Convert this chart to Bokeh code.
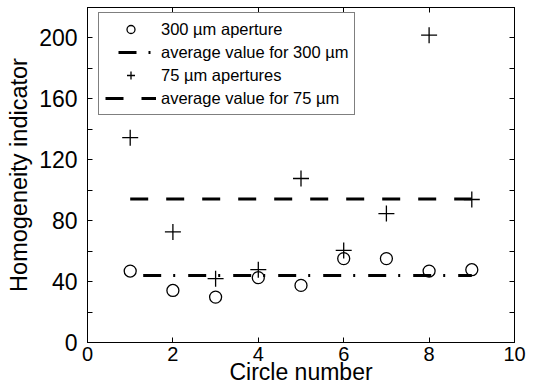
from bokeh.plotting import figure
from bokeh.models import Legend, LegendItem, LinearAxis, FixedTicker, CustomLabelingPolicy
from bokeh.embed import file_html
from bokeh.resources import INLINE

# ---- data ----
circle_no = [1, 2, 3, 4, 5, 6, 7, 8, 9]
hi_300 = [46.9, 34.2, 29.8, 42.6, 37.5, 55.1, 55.1, 46.9, 47.8]
hi_75 = [134.5, 72.6, 41.9, 47.8, 107.7, 60.5, 84.7, 201.8, 93.9]
avg_x = [1, 9]
avg_300 = [44.0, 44.0]
avg_75 = [94.3, 94.3]

x_ticks = [0, 2, 4, 6, 8, 10]
y_ticks = [0, 40, 80, 120, 160, 200]
y_minor = [20, 60, 100, 140, 180, 220]

label_names = ["300 µm aperture", "average value for 300 µm",
               "75 µm apertures", "average value for 75 µm"]

p = figure(width=534, height=389, x_range=(0, 10), y_range=(0, 220),
           output_backend="svg", toolbar_location=None,
           min_border_left=87, min_border_right=20, min_border_top=7,
           min_border_bottom=47)
p.grid.visible = False
p.outline_line_color = "black"
p.outline_line_width = 1
p.background_fill_color = "white"
p.border_fill_color = "white"

# main axes
xa = p.xaxis[0]
xa.ticker = FixedTicker(ticks=x_ticks, minor_ticks=[])
ya = p.yaxis[0]
ya.ticker = FixedTicker(ticks=y_ticks, minor_ticks=y_minor)

for ax in (xa, ya):
    ax.axis_line_color = "black"
    ax.major_tick_line_color = "black"
    ax.minor_tick_line_color = "black"
    ax.major_tick_in = 5
    ax.major_tick_out = 0
    ax.minor_tick_in = 5
    ax.minor_tick_out = 0
    ax.major_label_text_color = "black"
    ax.axis_label_text_color = "black"
    ax.axis_label_text_font_style = "normal"

xa.major_label_text_font = "Liberation Sans"
xa.major_label_text_font_size = "20px"
xa.major_label_standoff = 4
xa.axis_label = "Circle number"
xa.axis_label_text_font = "Liberation Sans"
xa.axis_label_text_font_size = "23px"
xa.axis_label_standoff = -5

ya.major_label_text_font = "Liberation Sans"
ya.major_label_text_font_size = "23px"
ya.major_label_standoff = 10
ya.axis_label = "Homogeneity indicator"
ya.axis_label_text_font = "Liberation Sans"
ya.axis_label_text_font_size = "23.5px"
ya.axis_label_standoff = 4

# box axes (top / right), ticks only, no labels drawn
no_labels = CustomLabelingPolicy(code="return new Set()")
top = LinearAxis(ticker=FixedTicker(ticks=x_ticks, minor_ticks=[]))
right = LinearAxis(ticker=FixedTicker(ticks=y_ticks, minor_ticks=y_minor))
for ax in (top, right):
    ax.axis_line_color = "black"
    ax.major_tick_line_color = "black"
    ax.minor_tick_line_color = "black"
    ax.major_tick_in = 5
    ax.major_tick_out = 0
    ax.minor_tick_in = 5
    ax.minor_tick_out = 0
    ax.major_label_policy = no_labels
    ax.major_label_text_font_size = "1px"
    ax.major_label_standoff = 0
p.add_layout(top, "above")
p.add_layout(right, "right")

# glyphs
r_c = p.scatter(circle_no, hi_300, marker="circle", size=12,
                fill_color=None, line_color="black", line_width=1.3)
r_a300 = p.line(avg_x, avg_300, line_color="black", line_width=3,
                line_dash="18 12 2 13", line_dash_offset=32)
r_p = p.scatter(circle_no, hi_75, marker="cross", size=16,
                line_color="black", line_width=1.3)
r_a75 = p.line(avg_x, avg_75, line_color="black", line_width=3,
               line_dash="18 18")

legend = Legend(items=[
    LegendItem(label=label_names[0], renderers=[r_c]),
    LegendItem(label=label_names[1], renderers=[r_a300]),
    LegendItem(label=label_names[2], renderers=[r_p]),
    LegendItem(label=label_names[3], renderers=[r_a75]),
], location=(11, 227))
legend.label_text_font = "Liberation Sans"
legend.label_text_font_size = "16.5px"
legend.label_text_color = "black"
legend.glyph_width = 51
legend.glyph_height = 20
legend.label_height = 20
legend.label_standoff = 5
legend.spacing = 3
legend.padding = 6
legend.margin = 0
legend.border_line_color = "black"
legend.border_line_width = 1
legend.background_fill_color = "white"
legend.background_fill_alpha = 1
p.add_layout(legend)

open("out.html", "w").write(file_html(p, INLINE))
